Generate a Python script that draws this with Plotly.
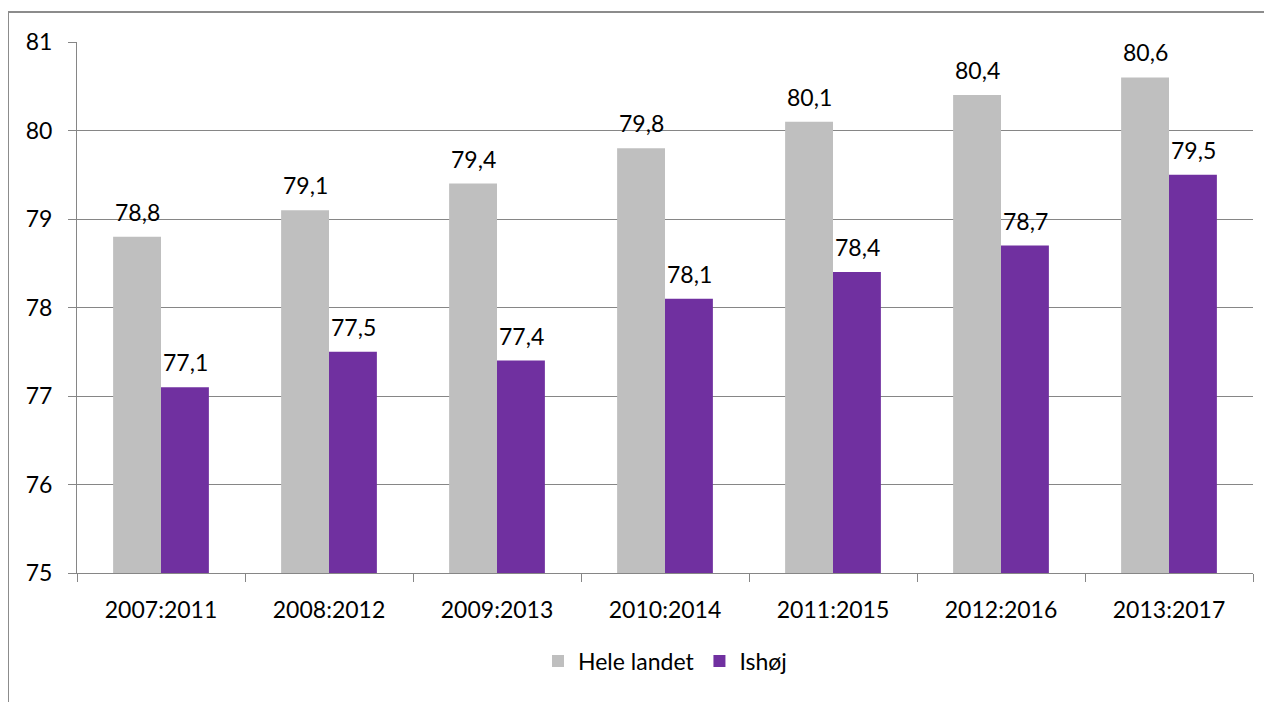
import plotly.graph_objects as go

categories = ["2007:2011", "2008:2012", "2009:2013", "2010:2014", "2011:2015", "2012:2016", "2013:2017"]
hele_landet = [78.8, 79.1, 79.4, 79.8, 80.1, 80.4, 80.6]
ishoj = [77.1, 77.5, 77.4, 78.1, 78.4, 78.7, 79.5]
series_names = ["Hele landet", "Ishøj"]
colors = ["#BFBFBF", "#7030A0"]

FONT = "Lato"
FS = 23
fig = go.Figure()
for name, vals, col in zip(series_names, [hele_landet, ishoj], colors):
    fig.add_trace(go.Bar(x=categories, y=vals, name=name, marker=dict(color=col, line=dict(width=0))))

annotations = []
for vals, shift in [(hele_landet, -24), (ishoj, 24)]:
    for c, v in zip(categories, vals):
        annotations.append(dict(x=c, y=v, text=f"{v:.1f}".replace(".", ","), xref="x", yref="y",
                                showarrow=False, xshift=shift, yshift=25, yanchor="middle",
                                font=dict(family=FONT, size=FS, color="#000000")))

OFF = 8  # page body margin
L, R, T, B = 77 - OFF, 19 + OFF, 42 - OFF, 129 + OFF
W, H = 1272, 702
pw, ph = W - L - R, H - T - B
def px(x): return (x - OFF - L) / pw
def py(y): return (H - B - (y - OFF)) / ph

shapes = [
    dict(type="line", xref="paper", yref="paper", x0=px(8), x1=px(1300), y0=py(12), y1=py(12),
         line=dict(color="#8C8C8C", width=2)),
    dict(type="line", xref="paper", yref="paper", x0=px(8), x1=px(8), y0=py(12), y1=py(720),
         line=dict(color="#8C8C8C", width=2)),
]

fig.update_layout(
    width=W, height=H,
    margin=dict(l=L, r=R, t=T, b=B, autoexpand=False),
    paper_bgcolor="white", plot_bgcolor="white",
    barmode="group", bargap=0.43, bargroupgap=0,
    font=dict(family=FONT, size=FS, color="#000000"),
    showlegend=True,
    legend=dict(orientation="h", x=0.5, xanchor="center", y=py(661), yanchor="middle",
                font=dict(family=FONT, size=FS), itemwidth=30, traceorder="normal"),
    annotations=annotations, shapes=shapes,
    xaxis=dict(type="category", showgrid=False, showline=True, linecolor="#868686", linewidth=1,
               ticks="outside", ticklen=8, tickcolor="#868686", tickson="boundaries",
               ticklabelstandoff=16, tickfont=dict(family=FONT, size=FS)),
    yaxis=dict(range=[75, 81], dtick=1, showgrid=True, gridcolor="#868686", gridwidth=1,
               showline=True, linecolor="#868686", linewidth=1, ticks="outside", ticklen=8,
               tickcolor="#868686", ticklabelstandoff=11, zeroline=False,
               tickfont=dict(family=FONT, size=FS)),
)
fig.write_html("out.html")
